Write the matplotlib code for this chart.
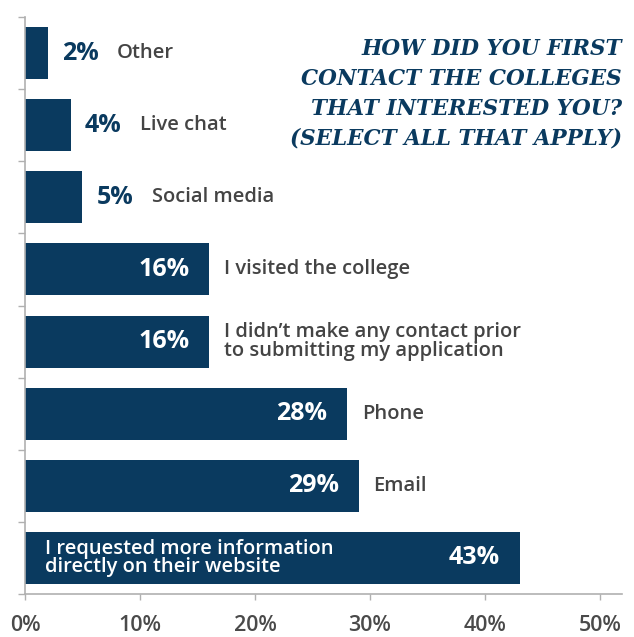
import matplotlib.pyplot as plt
import numpy as np

labels = ["Other", "Live chat", "Social media", "I visited the college",
          "I didn\u2019t make any contact prior\nto submitting my application",
          "Phone", "Email",
          "I requested more information\ndirectly on their website"]
values = [2, 4, 5, 16, 16, 28, 29, 43]
ticks = [0, 10, 20, 30, 40, 50]
title = ("HOW DID YOU FIRST\nCONTACT THE COLLEGES\nTHAT INTERESTED YOU?\n"
         "(SELECT ALL THAT APPLY)")

navy = "#0a3a5f"
grey = "#444444"
axis_grey = "#b0b0b0"

plt.rcParams['font.family'] = ['Open Sans', 'DejaVu Sans']

fig = plt.figure(figsize=(6.34, 6.37), dpi=100)
ax = fig.add_axes([0.0394, 0.0675, 0.9416, 0.9058])

y = np.arange(len(values))
ax.barh(y, values, height=0.72, color=navy, zorder=2)
ax.set_ylim(len(values) - 0.5, -0.5)
ax.set_xlim(0, 51.9)

pct_size = 18
lab_size = 14.5
for i, (v, lab) in enumerate(zip(values, labels)):
    if v < 10:
        # small bars: percent and label both outside
        ax.text(v + 1.2, i, f"{v}%", color=navy, fontsize=pct_size, fontweight='bold',
                va='center', ha='left')
        ax.text(v + 6.0, i, lab, color=grey, fontsize=lab_size, fontweight='semibold',
                va='center', ha='left', linespacing=0.9)
    elif i == len(values) - 1:
        ax.text(v - 1.7, i, f"{v}%", color='white', fontsize=pct_size, fontweight='bold',
                va='center', ha='right')
        ax.text(1.75, i, lab, color='white', fontsize=lab_size, fontweight='semibold',
                va='center', ha='left', linespacing=0.9)
    else:
        ax.text(v - 1.7, i, f"{v}%", color='white', fontsize=pct_size, fontweight='bold',
                va='center', ha='right')
        ax.text(v + 1.3, i, lab, color=grey, fontsize=lab_size, fontweight='semibold',
                va='center', ha='left', linespacing=0.9)

ax.set_xticks(ticks)
ax.set_xticklabels([f"{t}%" for t in ticks], fontsize=15.5, fontweight='semibold',
                   color="#4a4a4a")
ax.set_yticks(np.arange(len(values) + 1) - 0.5)
ax.set_yticklabels([])
ax.tick_params(axis='x', length=4, width=1, color=axis_grey, pad=11)
ax.tick_params(axis='y', direction='out', length=5, width=1, color=axis_grey)

for s in ['top', 'right']:
    ax.spines[s].set_visible(False)
for s in ['left', 'bottom']:
    ax.spines[s].set_color(axis_grey)
    ax.spines[s].set_linewidth(1.2)

fig.text(0.981, 0.853, title, color=navy, fontsize=15.5, fontweight='bold',
         fontstyle='italic', family='DejaVu Serif', ha='right', va='center',
         linespacing=1.47)

fig.savefig("out.png", dpi=100)
